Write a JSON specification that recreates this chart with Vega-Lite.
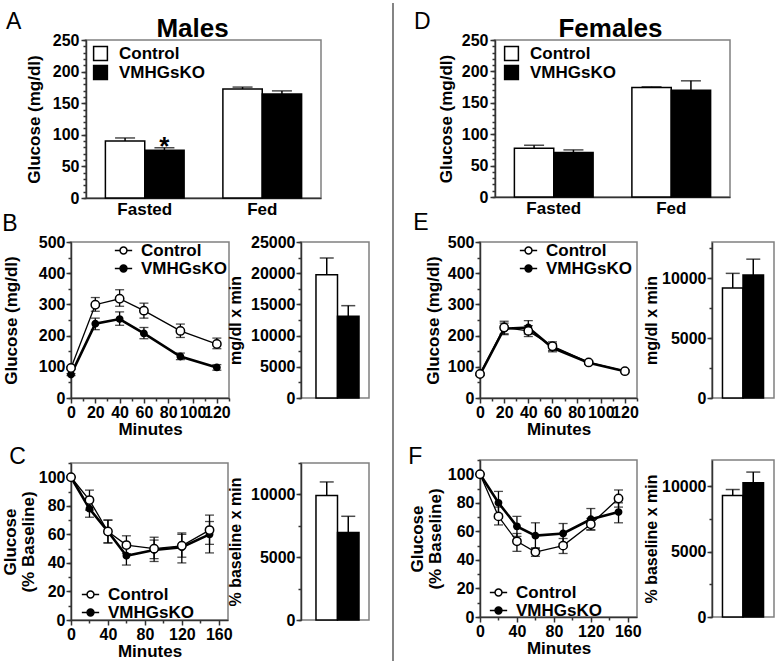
{
"$schema": "https://vega.github.io/schema/vega-lite/v6.json",
"background": "white",
"padding": {"left": 0, "top": 2, "right": 0, "bottom": 0},
"config": {
  "font": "Liberation Sans",
  "view": {"stroke": "#808080", "strokeWidth": 1.5},
  "axis": {"labelFont": "Liberation Sans", "labelFontSize": 16, "labelFontWeight": "bold", "labelColor": "#000", "titleFont": "Liberation Sans", "titleFontSize": 17, "titleFontWeight": "bold", "titleColor": "#000", "domainColor": "#333", "domainWidth": 1.5, "tickColor": "#333", "tickWidth": 1.5, "grid": false, "labelFlush": false, "labelOverlap": false},
  "legend": {"labelFont": "Liberation Sans", "labelFontSize": 17, "labelFontWeight": "bold", "labelColor": "#000"},
  "title": {"font": "Liberation Sans", "color": "#000"}
},
"datasets": {
  "A": [
    {"cond": "Fasted", "group": "Control", "mean": 90, "hi": 95, "sig": ""},
    {"cond": "Fasted", "group": "VMHGsKO", "mean": 75.5, "hi": 79.5, "sig": "*"},
    {"cond": "Fed", "group": "Control", "mean": 172.5, "hi": 175.5, "sig": ""},
    {"cond": "Fed", "group": "VMHGsKO", "mean": 164.5, "hi": 169.5, "sig": ""}
  ],
  "D": [
    {"cond": "Fasted", "group": "Control", "mean": 77.5, "hi": 82.5},
    {"cond": "Fasted", "group": "VMHGsKO", "mean": 71, "hi": 75},
    {"cond": "Fed", "group": "Control", "mean": 174.5, "hi": 175.5},
    {"cond": "Fed", "group": "VMHGsKO", "mean": 170, "hi": 185}
  ],
  "B": [
    {"t": 0, "group": "VMHGsKO", "mean": 75, "lo": 72, "hi": 78},
    {"t": 20, "group": "VMHGsKO", "mean": 238, "lo": 219, "hi": 256},
    {"t": 40, "group": "VMHGsKO", "mean": 253, "lo": 233, "hi": 276},
    {"t": 60, "group": "VMHGsKO", "mean": 207, "lo": 190, "hi": 226},
    {"t": 90, "group": "VMHGsKO", "mean": 133, "lo": 123, "hi": 144},
    {"t": 120, "group": "VMHGsKO", "mean": 98, "lo": 89, "hi": 107},
    {"t": 0, "group": "Control", "mean": 96, "lo": 92, "hi": 100},
    {"t": 20, "group": "Control", "mean": 299, "lo": 278, "hi": 322},
    {"t": 40, "group": "Control", "mean": 318, "lo": 294, "hi": 347},
    {"t": 60, "group": "Control", "mean": 280, "lo": 256, "hi": 304},
    {"t": 90, "group": "Control", "mean": 215, "lo": 194, "hi": 237},
    {"t": 120, "group": "Control", "mean": 173, "lo": 158, "hi": 192}
  ],
  "Bauc": [
    {"group": "Control", "mean": 19765, "hi": 22436},
    {"group": "VMHGsKO", "mean": 13088, "hi": 14797}
  ],
  "C": [
    {"t": 0, "group": "VMHGsKO", "mean": 100, "lo": 100, "hi": 100},
    {"t": 20, "group": "VMHGsKO", "mean": 78, "lo": 72, "hi": 84},
    {"t": 40, "group": "VMHGsKO", "mean": 62, "lo": 54, "hi": 70},
    {"t": 60, "group": "VMHGsKO", "mean": 45, "lo": 38.5, "hi": 51},
    {"t": 90, "group": "VMHGsKO", "mean": 49, "lo": 41, "hi": 56},
    {"t": 120, "group": "VMHGsKO", "mean": 51, "lo": 40, "hi": 60},
    {"t": 150, "group": "VMHGsKO", "mean": 60, "lo": 47, "hi": 69},
    {"t": 0, "group": "Control", "mean": 100, "lo": 100, "hi": 100},
    {"t": 20, "group": "Control", "mean": 84, "lo": 77, "hi": 91},
    {"t": 40, "group": "Control", "mean": 62, "lo": 54, "hi": 70},
    {"t": 60, "group": "Control", "mean": 52.5, "lo": 46.5, "hi": 59},
    {"t": 90, "group": "Control", "mean": 50, "lo": 43, "hi": 58},
    {"t": 120, "group": "Control", "mean": 52, "lo": 44, "hi": 61},
    {"t": 150, "group": "Control", "mean": 63, "lo": 53, "hi": 73.5}
  ],
  "Cauc": [
    {"group": "Control", "mean": 9920, "hi": 10992},
    {"group": "VMHGsKO", "mean": 6970, "hi": 8257}
  ],
  "E": [
    {"t": 0, "group": "VMHGsKO", "mean": 75, "lo": 72, "hi": 78},
    {"t": 20, "group": "VMHGsKO", "mean": 222, "lo": 203, "hi": 240},
    {"t": 40, "group": "VMHGsKO", "mean": 226, "lo": 205, "hi": 248},
    {"t": 60, "group": "VMHGsKO", "mean": 161, "lo": 148, "hi": 175},
    {"t": 90, "group": "VMHGsKO", "mean": 113, "lo": 109, "hi": 117},
    {"t": 120, "group": "VMHGsKO", "mean": 86, "lo": 83, "hi": 89},
    {"t": 0, "group": "Control", "mean": 77, "lo": 74, "hi": 80},
    {"t": 20, "group": "Control", "mean": 226, "lo": 206, "hi": 246},
    {"t": 40, "group": "Control", "mean": 215, "lo": 197, "hi": 232},
    {"t": 60, "group": "Control", "mean": 166, "lo": 152, "hi": 180},
    {"t": 90, "group": "Control", "mean": 114, "lo": 110, "hi": 118},
    {"t": 120, "group": "Control", "mean": 86, "lo": 83, "hi": 89}
  ],
  "Eauc": [
    {"group": "Control", "mean": 9173, "hi": 10386},
    {"group": "VMHGsKO", "mean": 10248, "hi": 11570}
  ],
  "F": [
    {"t": 0, "group": "VMHGsKO", "mean": 100, "lo": 100, "hi": 100},
    {"t": 20, "group": "VMHGsKO", "mean": 80, "lo": 72, "hi": 88},
    {"t": 40, "group": "VMHGsKO", "mean": 63.5, "lo": 56.5, "hi": 70.5},
    {"t": 60, "group": "VMHGsKO", "mean": 57, "lo": 48, "hi": 66},
    {"t": 90, "group": "VMHGsKO", "mean": 58.5, "lo": 51.5, "hi": 65.5},
    {"t": 120, "group": "VMHGsKO", "mean": 68.5, "lo": 61, "hi": 76},
    {"t": 150, "group": "VMHGsKO", "mean": 73.5, "lo": 66, "hi": 80},
    {"t": 0, "group": "Control", "mean": 100, "lo": 100, "hi": 100},
    {"t": 20, "group": "Control", "mean": 70.5, "lo": 64.5, "hi": 77},
    {"t": 40, "group": "Control", "mean": 53, "lo": 46, "hi": 58.5},
    {"t": 60, "group": "Control", "mean": 45.5, "lo": 42.5, "hi": 48.5},
    {"t": 90, "group": "Control", "mean": 50, "lo": 44.5, "hi": 55},
    {"t": 120, "group": "Control", "mean": 65, "lo": 61, "hi": 69},
    {"t": 150, "group": "Control", "mean": 83, "lo": 77, "hi": 89}
  ],
  "Fauc": [
    {"group": "Control", "mean": 9282, "hi": 9744},
    {"group": "VMHGsKO", "mean": 10256, "hi": 11077}
  ]
},
"spacing": 13,
"resolve": {"scale": {"fill": "independent"}, "legend": {"fill": "independent"}},
"hconcat": [
 {"hconcat": [
  {"vconcat": [
    {"width": 1, "height": 1, "view": {"stroke": null}, "data": {"values": []}, "mark": "point", "encoding": {}},
    {"vconcat": [
      {"hconcat": [
        {"width": 15, "height": 158, "view": {"stroke": null}, "title": {"text": "A", "anchor": "start", "frame": "group", "dx": -65, "fontSize": 23, "fontWeight": "normal", "baseline": "alphabetic", "offset": -12}, "data": {"values": []}, "mark": "point", "encoding": {}},
        {"width": 235, "height": 158,
         "title": {"text": "Males", "anchor": "middle", "frame": "group", "fontSize": 26, "fontWeight": "bold", "baseline": "alphabetic", "offset": -31, "dx": -11},
         "data": {"name": "A"},
         "resolve": {"axis": {"y": "independent"}},
         "encoding": {
           "x": {"field": "cond", "type": "nominal", "sort": ["Fasted", "Fed"], "scale": {"paddingInner": 0.33, "paddingOuter": 0.165}, "axis": {"title": null, "labelAngle": 0, "ticks": false, "labelPadding": 3, "labelFontSize": 17}},
           "xOffset": {"field": "group", "type": "nominal", "sort": ["Control", "VMHGsKO"], "scale": {"paddingInner": 0, "paddingOuter": 0}}
         },
         "layer": [
           {"mark": {"type": "bar", "stroke": "black", "strokeWidth": 1.5},
            "encoding": {
              "y": {"field": "mean", "type": "quantitative", "scale": {"domain": [0, 250], "nice": false}, "axis": {"title": "Glucose (mg/dl)", "orient": "left", "labelOverlap": false, "values": [0,50,100,150,200,250], "tickSize": 5, "labelPadding": 2, "titlePadding": 9}},
              "fill": {"field": "group", "type": "nominal", "scale": {"domain": ["Control", "VMHGsKO"], "range": ["white", "black"]}, "legend": {"title": null, "orient": "none", "legendX": 6, "legendY": 5, "symbolType": "square", "symbolSize": 190, "symbolStrokeColor": "black", "symbolStrokeWidth": 1.5, "labelOffset": 10, "rowPadding": -2}}
            }},
           {"mark": {"type": "rule", "color": "black", "strokeWidth": 1.5},
            "encoding": {"y": {"field": "mean", "type": "quantitative", "axis": {"orient": "left", "title": null, "labels": false, "domain": false, "tickSize": 3, "values": [0,10,20,30,40,50,60,70,80,90,100,110,120,130,140,150,160,170,180,190,200,210,220,230,240,250]}}, "y2": {"field": "hi"}}},
           {"mark": {"type": "tick", "orient": "horizontal", "size": 20, "thickness": 1.5, "color": "black"},
            "encoding": {"y": {"field": "hi", "type": "quantitative", "axis": null}}},
           {"mark": {"type": "text", "fontSize": 26, "fontWeight": "bold", "baseline": "alphabetic", "dy": 7, "color": "black"},
            "encoding": {"y": {"field": "hi", "type": "quantitative", "axis": null}, "text": {"field": "sig"}}}
         ]}
      ], "spacing": 0, "bounds": "flush", "resolve": {"scale": {"fill": "independent"}, "legend": {"fill": "independent"}}},
      {"hconcat": [
        {"width": 158, "height": 156,
         "title": {"text": "B", "anchor": "start", "fontSize": 23, "fontWeight": "normal", "baseline": "alphabetic", "offset": -20},
         "data": {"name": "B"},
         "resolve": {"axis": {"y": "independent"}},
         "encoding": {
           "x": {"field": "t", "type": "quantitative", "scale": {"domain": [0, 130], "nice": false}, "axis": {"title": "Minutes", "labelOverlap": false, "values": [0,10,20,30,40,50,60,70,80,90,100,110,120,130], "labelExpr": "datum.value % 20 === 0 && datum.value <= 120 ? datum.label : ''", "tickSize": {"condition": {"test": "datum.value % 20 === 0", "value": 5}, "value": 3}, "labelPadding": 1, "titlePadding": 1}}
         },
         "layer": [
           {"mark": {"type": "rule", "color": "black", "strokeWidth": 1.3},
            "encoding": {"y": {"field": "lo", "type": "quantitative", "scale": {"domain": [0, 500], "nice": false}, "axis": {"title": "Glucose (mg/dl)", "orient": "left", "labelOverlap": false, "values": [0,100,200,300,400,500], "tickSize": 5, "labelPadding": 1, "titlePadding": 18}}, "y2": {"field": "hi"}}},
           {"mark": {"type": "tick", "orient": "horizontal", "size": 9, "thickness": 1.3, "color": "black"},
            "encoding": {"y": {"field": "lo", "type": "quantitative", "axis": {"orient": "left", "title": null, "labels": false, "domain": false, "tickSize": 3, "values": [0,50,100,150,200,250,300,350,400,450,500]}}}},
           {"mark": {"type": "tick", "orient": "horizontal", "size": 9, "thickness": 1.3, "color": "black"},
            "encoding": {"y": {"field": "hi", "type": "quantitative", "axis": null}}},
           {"transform": [{"filter": "datum.group === 'Control'"}], "mark": {"type": "line", "color": "black", "strokeWidth": 1.3},
            "encoding": {"y": {"field": "mean", "type": "quantitative", "axis": null}}},
           {"transform": [{"filter": "datum.group === 'VMHGsKO'"}], "mark": {"type": "line", "color": "black", "strokeWidth": 2.6},
            "encoding": {"y": {"field": "mean", "type": "quantitative", "axis": null}}},
           {"mark": {"type": "point", "shape": "circle", "filled": true, "stroke": "black", "strokeWidth": 1.5, "opacity": 1},
            "encoding": {"y": {"field": "mean", "type": "quantitative", "axis": null},
              "fill": {"field": "group", "type": "nominal", "scale": {"domain": ["Control", "VMHGsKO"], "range": ["white", "black"]}, "legend": {"title": null, "orient": "none", "legendX": 43, "legendY": -1, "symbolType": "M-1,0H-0.4M0.4,0H1M0.4,0A0.4,0.4,0,1,1,-0.4,0A0.4,0.4,0,1,1,0.4,0Z", "symbolSize": 300, "symbolStrokeColor": "black", "symbolStrokeWidth": 1.5, "labelOffset": 8, "rowPadding": -1}},
              "size": {"condition": {"test": "datum.group === 'Control'", "value": 70}, "value": 40}}}
         ]},
        {"width": 68, "height": 156,
         "data": {"name": "Bauc"},
         "resolve": {"axis": {"y": "independent"}},
         "encoding": {"x": {"field": "group", "type": "nominal", "sort": ["Control", "VMHGsKO"], "axis": null, "scale": {"paddingInner": 0, "paddingOuter": 0.58, "align": 0.6}}},
         "layer": [
           {"mark": {"type": "bar", "stroke": "black", "strokeWidth": 1.5},
            "encoding": {"y": {"field": "mean", "type": "quantitative", "scale": {"domain": [0, 25000], "nice": false}, "axis": {"title": "mg/dl x min", "orient": "left", "titleFontSize": 16, "labelOverlap": false, "values": [0,5000,10000,15000,20000,25000], "format": "d", "tickSize": 5, "labelPadding": 1, "titlePadding": 7}},
              "fill": {"field": "group", "type": "nominal", "scale": {"domain": ["Control", "VMHGsKO"], "range": ["white", "black"]}, "legend": null}}},
           {"mark": {"type": "rule", "color": "black", "strokeWidth": 1.5},
            "encoding": {"y": {"field": "mean", "type": "quantitative", "axis": {"orient": "left", "title": null, "labels": false, "domain": false, "tickSize": 3, "values": [0,2500,5000,7500,10000,12500,15000,17500,20000,22500,25000]}}, "y2": {"field": "hi"}}},
           {"mark": {"type": "tick", "orient": "horizontal", "size": 14, "thickness": 1.5, "color": "black"},
            "encoding": {"y": {"field": "hi", "type": "quantitative", "axis": null}}}
         ]}
      ], "spacing": 72, "bounds": "flush", "resolve": {"scale": {"fill": "independent"}, "legend": {"fill": "independent"}}}
    ], "spacing": -6, "resolve": {"scale": {"fill": "independent"}, "legend": {"fill": "independent"}}},
    {"hconcat": [
      {"width": 157, "height": 157,
       "title": {"text": "C", "anchor": "start", "fontSize": 23, "fontWeight": "normal", "baseline": "alphabetic", "offset": -25, "dx": 8},
       "data": {"name": "C"},
       "resolve": {"axis": {"y": "independent"}},
       "encoding": {
         "x": {"field": "t", "type": "quantitative", "scale": {"domain": [0, 170], "nice": false}, "axis": {"title": "Minutes", "labelOverlap": false, "values": [0,20,40,60,80,100,120,140,160], "labelExpr": "datum.value % 40 === 0 ? datum.label : ''", "tickSize": {"condition": {"test": "datum.value % 40 === 0", "value": 5}, "value": 3}, "labelPadding": 1, "titlePadding": 1}}
       },
       "layer": [
         {"mark": {"type": "rule", "color": "black", "strokeWidth": 1.3},
          "encoding": {"y": {"field": "lo", "type": "quantitative", "scale": {"domain": [0, 110], "nice": false}, "axis": {"title": ["Glucose", "(% Baseline)"], "orient": "left", "titleLineHeight": 18, "labelOverlap": false, "values": [0,20,40,60,80,100], "tickSize": 5, "labelPadding": 1, "titlePadding": 1}}, "y2": {"field": "hi"}}},
         {"mark": {"type": "tick", "orient": "horizontal", "size": 9, "thickness": 1.3, "color": "black"},
          "encoding": {"y": {"field": "lo", "type": "quantitative", "axis": {"orient": "left", "title": null, "labels": false, "domain": false, "tickSize": 3, "values": [0,10,20,30,40,50,60,70,80,90,100,110]}}}},
         {"mark": {"type": "tick", "orient": "horizontal", "size": 9, "thickness": 1.3, "color": "black"},
          "encoding": {"y": {"field": "hi", "type": "quantitative", "axis": null}}},
         {"transform": [{"filter": "datum.group === 'Control'"}], "mark": {"type": "line", "color": "black", "strokeWidth": 1.3},
          "encoding": {"y": {"field": "mean", "type": "quantitative", "axis": null}}},
         {"transform": [{"filter": "datum.group === 'VMHGsKO'"}], "mark": {"type": "line", "color": "black", "strokeWidth": 2.6},
          "encoding": {"y": {"field": "mean", "type": "quantitative", "axis": null}}},
         {"mark": {"type": "point", "shape": "circle", "filled": true, "stroke": "black", "strokeWidth": 1.5, "opacity": 1},
          "encoding": {"y": {"field": "mean", "type": "quantitative", "axis": null},
            "fill": {"field": "group", "type": "nominal", "scale": {"domain": ["Control", "VMHGsKO"], "range": ["white", "black"]}, "legend": {"title": null, "orient": "none", "legendX": 10, "legendY": 122, "symbolType": "M-1,0H-0.4M0.4,0H1M0.4,0A0.4,0.4,0,1,1,-0.4,0A0.4,0.4,0,1,1,0.4,0Z", "symbolSize": 300, "symbolStrokeColor": "black", "symbolStrokeWidth": 1.5, "labelOffset": 8, "rowPadding": -3}},
            "size": {"condition": {"test": "datum.group === 'Control'", "value": 70}, "value": 40}}}
       ]},
      {"width": 68, "height": 157,
       "data": {"name": "Cauc"},
       "resolve": {"axis": {"y": "independent"}},
       "encoding": {"x": {"field": "group", "type": "nominal", "sort": ["Control", "VMHGsKO"], "axis": null, "scale": {"paddingInner": 0, "paddingOuter": 0.58, "align": 0.6}}},
       "layer": [
         {"mark": {"type": "bar", "stroke": "black", "strokeWidth": 1.5},
          "encoding": {"y": {"field": "mean", "type": "quantitative", "scale": {"domain": [0, 12500], "nice": false}, "axis": {"title": "% baseline x min", "orient": "left", "titleFontSize": 16, "labelOverlap": false, "values": [0,5000,10000], "format": "d", "tickSize": 5, "labelPadding": 1, "titlePadding": 7}},
            "fill": {"field": "group", "type": "nominal", "scale": {"domain": ["Control", "VMHGsKO"], "range": ["white", "black"]}, "legend": null}}},
         {"mark": {"type": "rule", "color": "black", "strokeWidth": 1.5},
          "encoding": {"y": {"field": "mean", "type": "quantitative", "axis": {"orient": "left", "title": null, "labels": false, "domain": false, "tickSize": 3, "values": [0,2500,5000,7500,10000,12500]}}, "y2": {"field": "hi"}}},
         {"mark": {"type": "tick", "orient": "horizontal", "size": 14, "thickness": 1.5, "color": "black"},
          "encoding": {"y": {"field": "hi", "type": "quantitative", "axis": null}}}
       ]}
    ], "spacing": 73, "bounds": "flush", "resolve": {"scale": {"fill": "independent"}, "legend": {"fill": "independent"}}}
  ], "spacing": 7, "resolve": {"scale": {"fill": "independent"}, "legend": {"fill": "independent"}}},
  {"width": 1, "height": 658, "view": {"stroke": null}, "data": {"values": [{"pos": 0}]}, "mark": {"type": "rule", "color": "#333", "strokeWidth": 1.2}, "encoding": {"x": {"field": "pos", "type": "quantitative", "axis": null, "scale": {"domain": [0, 1]}}}}
 ], "spacing": 22, "resolve": {"scale": {"fill": "independent"}, "legend": {"fill": "independent"}}},
  {"vconcat": [
    {"width": 1, "height": 1, "view": {"stroke": null}, "data": {"values": []}, "mark": "point", "encoding": {}},
    {"vconcat": [
      {"hconcat": [
        {"width": 15, "height": 157, "view": {"stroke": null}, "title": {"text": "D", "anchor": "start", "frame": "group", "dx": -66, "fontSize": 23, "fontWeight": "normal", "baseline": "alphabetic", "offset": -12}, "data": {"values": []}, "mark": "point", "encoding": {}},
        {"width": 235, "height": 157,
         "title": {"text": "Females", "anchor": "middle", "frame": "group", "fontSize": 26, "fontWeight": "bold", "baseline": "alphabetic", "offset": -31, "dx": -2},
         "data": {"name": "D"},
         "resolve": {"axis": {"y": "independent"}},
         "encoding": {
           "x": {"field": "cond", "type": "nominal", "sort": ["Fasted", "Fed"], "scale": {"paddingInner": 0.33, "paddingOuter": 0.165}, "axis": {"title": null, "labelAngle": 0, "ticks": false, "labelPadding": 3, "labelFontSize": 17}},
           "xOffset": {"field": "group", "type": "nominal", "sort": ["Control", "VMHGsKO"], "scale": {"paddingInner": 0, "paddingOuter": 0}}
         },
         "layer": [
           {"mark": {"type": "bar", "stroke": "black", "strokeWidth": 1.5},
            "encoding": {
              "y": {"field": "mean", "type": "quantitative", "scale": {"domain": [0, 250], "nice": false}, "axis": {"title": "Glucose (mg/dl)", "orient": "left", "labelOverlap": false, "values": [0,50,100,150,200,250], "tickSize": 5, "labelPadding": 2, "titlePadding": 6}},
              "fill": {"field": "group", "type": "nominal", "scale": {"domain": ["Control", "VMHGsKO"], "range": ["white", "black"]}, "legend": {"title": null, "orient": "none", "legendX": 8, "legendY": 5, "symbolType": "square", "symbolSize": 190, "symbolStrokeColor": "black", "symbolStrokeWidth": 1.5, "labelOffset": 10, "rowPadding": -2}}
            }},
           {"mark": {"type": "rule", "color": "black", "strokeWidth": 1.5},
            "encoding": {"y": {"field": "mean", "type": "quantitative", "axis": {"orient": "left", "title": null, "labels": false, "domain": false, "tickSize": 3, "values": [0,10,20,30,40,50,60,70,80,90,100,110,120,130,140,150,160,170,180,190,200,210,220,230,240,250]}}, "y2": {"field": "hi"}}},
           {"mark": {"type": "tick", "orient": "horizontal", "size": 20, "thickness": 1.5, "color": "black"},
            "encoding": {"y": {"field": "hi", "type": "quantitative", "axis": null}}}
         ]}
      ], "spacing": 0, "bounds": "flush", "resolve": {"scale": {"fill": "independent"}, "legend": {"fill": "independent"}}},
      {"hconcat": [
        {"width": 157, "height": 156,
         "title": {"text": "E", "anchor": "start", "fontSize": 23, "fontWeight": "normal", "baseline": "alphabetic", "offset": -19, "dx": -11},
         "data": {"name": "E"},
         "resolve": {"axis": {"y": "independent"}},
         "encoding": {
           "x": {"field": "t", "type": "quantitative", "scale": {"domain": [0, 130], "nice": false}, "axis": {"title": "Minutes", "labelOverlap": false, "values": [0,10,20,30,40,50,60,70,80,90,100,110,120,130], "labelExpr": "datum.value % 20 === 0 && datum.value <= 120 ? datum.label : ''", "tickSize": {"condition": {"test": "datum.value % 20 === 0", "value": 5}, "value": 3}, "labelPadding": 1, "titlePadding": 1}}
         },
         "layer": [
           {"mark": {"type": "rule", "color": "black", "strokeWidth": 1.3},
            "encoding": {"y": {"field": "lo", "type": "quantitative", "scale": {"domain": [0, 500], "nice": false}, "axis": {"title": "Glucose (mg/dl)", "orient": "left", "labelOverlap": false, "values": [0,100,200,300,400,500], "tickSize": 5, "labelPadding": 1, "titlePadding": 5}}, "y2": {"field": "hi"}}},
           {"mark": {"type": "tick", "orient": "horizontal", "size": 9, "thickness": 1.3, "color": "black"},
            "encoding": {"y": {"field": "lo", "type": "quantitative", "axis": {"orient": "left", "title": null, "labels": false, "domain": false, "tickSize": 3, "values": [0,50,100,150,200,250,300,350,400,450,500]}}}},
           {"mark": {"type": "tick", "orient": "horizontal", "size": 9, "thickness": 1.3, "color": "black"},
            "encoding": {"y": {"field": "hi", "type": "quantitative", "axis": null}}},
           {"transform": [{"filter": "datum.group === 'Control'"}], "mark": {"type": "line", "color": "black", "strokeWidth": 1.3},
            "encoding": {"y": {"field": "mean", "type": "quantitative", "axis": null}}},
           {"transform": [{"filter": "datum.group === 'VMHGsKO'"}], "mark": {"type": "line", "color": "black", "strokeWidth": 2.6},
            "encoding": {"y": {"field": "mean", "type": "quantitative", "axis": null}}},
           {"mark": {"type": "point", "shape": "circle", "filled": true, "stroke": "black", "strokeWidth": 1.5, "opacity": 1},
            "encoding": {"y": {"field": "mean", "type": "quantitative", "axis": null},
              "fill": {"field": "group", "type": "nominal", "scale": {"domain": ["Control", "VMHGsKO"], "range": ["white", "black"]}, "legend": {"title": null, "orient": "none", "legendX": 39, "legendY": -1, "symbolType": "M-1,0H-0.4M0.4,0H1M0.4,0A0.4,0.4,0,1,1,-0.4,0A0.4,0.4,0,1,1,0.4,0Z", "symbolSize": 300, "symbolStrokeColor": "black", "symbolStrokeWidth": 1.5, "labelOffset": 8, "rowPadding": -1}},
              "size": {"condition": {"test": "datum.group === 'Control'", "value": 70}, "value": 40}}}
         ]},
        {"width": 62, "height": 156,
         "data": {"name": "Eauc"},
         "resolve": {"axis": {"y": "independent"}},
         "encoding": {"x": {"field": "group", "type": "nominal", "sort": ["Control", "VMHGsKO"], "axis": null, "scale": {"paddingInner": 0, "paddingOuter": 0.51}}},
         "layer": [
           {"mark": {"type": "bar", "stroke": "black", "strokeWidth": 1.5},
            "encoding": {"y": {"field": "mean", "type": "quantitative", "scale": {"domain": [0, 13000], "nice": false}, "axis": {"title": "mg/dl x min", "orient": "left", "titleFontSize": 16, "labelOverlap": false, "values": [0,5000,10000], "format": "d", "tickSize": 5, "labelPadding": 1, "titlePadding": 2}},
              "fill": {"field": "group", "type": "nominal", "scale": {"domain": ["Control", "VMHGsKO"], "range": ["white", "black"]}, "legend": null}}},
           {"mark": {"type": "rule", "color": "black", "strokeWidth": 1.5},
            "encoding": {"y": {"field": "mean", "type": "quantitative", "axis": {"orient": "left", "title": null, "labels": false, "domain": false, "tickSize": 3, "values": [0,2500,5000,7500,10000,12500]}}, "y2": {"field": "hi"}}},
           {"mark": {"type": "tick", "orient": "horizontal", "size": 14, "thickness": 1.5, "color": "black"},
            "encoding": {"y": {"field": "hi", "type": "quantitative", "axis": null}}}
         ]}
      ], "spacing": 75, "bounds": "flush", "resolve": {"scale": {"fill": "independent"}, "legend": {"fill": "independent"}}}
    ], "spacing": -6, "resolve": {"scale": {"fill": "independent"}, "legend": {"fill": "independent"}}},
    {"hconcat": [
      {"width": 157, "height": 157,
       "title": {"text": "F", "anchor": "start", "fontSize": 23, "fontWeight": "normal", "baseline": "alphabetic", "offset": -28, "dx": 0},
       "data": {"name": "F"},
       "resolve": {"axis": {"y": "independent"}},
       "encoding": {
         "x": {"field": "t", "type": "quantitative", "scale": {"domain": [0, 170], "nice": false}, "axis": {"title": "Minutes", "labelOverlap": false, "values": [0,20,40,60,80,100,120,140,160], "labelExpr": "datum.value % 40 === 0 ? datum.label : ''", "tickSize": {"condition": {"test": "datum.value % 40 === 0", "value": 5}, "value": 3}, "labelPadding": 1, "titlePadding": 1}}
       },
       "layer": [
         {"mark": {"type": "rule", "color": "black", "strokeWidth": 1.3},
          "encoding": {"y": {"field": "lo", "type": "quantitative", "scale": {"domain": [0, 110], "nice": false}, "axis": {"title": ["Glucose", "(% Baseline)"], "orient": "left", "titleLineHeight": 18, "labelOverlap": false, "values": [0,20,40,60,80,100], "tickSize": 5, "labelPadding": 1, "titlePadding": 3}}, "y2": {"field": "hi"}}},
         {"mark": {"type": "tick", "orient": "horizontal", "size": 9, "thickness": 1.3, "color": "black"},
          "encoding": {"y": {"field": "lo", "type": "quantitative", "axis": {"orient": "left", "title": null, "labels": false, "domain": false, "tickSize": 3, "values": [0,10,20,30,40,50,60,70,80,90,100,110]}}}},
         {"mark": {"type": "tick", "orient": "horizontal", "size": 9, "thickness": 1.3, "color": "black"},
          "encoding": {"y": {"field": "hi", "type": "quantitative", "axis": null}}},
         {"transform": [{"filter": "datum.group === 'Control'"}], "mark": {"type": "line", "color": "black", "strokeWidth": 1.3},
          "encoding": {"y": {"field": "mean", "type": "quantitative", "axis": null}}},
         {"transform": [{"filter": "datum.group === 'VMHGsKO'"}], "mark": {"type": "line", "color": "black", "strokeWidth": 2.6},
          "encoding": {"y": {"field": "mean", "type": "quantitative", "axis": null}}},
         {"mark": {"type": "point", "shape": "circle", "filled": true, "stroke": "black", "strokeWidth": 1.5, "opacity": 1},
          "encoding": {"y": {"field": "mean", "type": "quantitative", "axis": null},
            "fill": {"field": "group", "type": "nominal", "scale": {"domain": ["Control", "VMHGsKO"], "range": ["white", "black"]}, "legend": {"title": null, "orient": "none", "legendX": 9, "legendY": 123, "symbolType": "M-1,0H-0.4M0.4,0H1M0.4,0A0.4,0.4,0,1,1,-0.4,0A0.4,0.4,0,1,1,0.4,0Z", "symbolSize": 300, "symbolStrokeColor": "black", "symbolStrokeWidth": 1.5, "labelOffset": 8, "rowPadding": -2}},
            "size": {"condition": {"test": "datum.group === 'Control'", "value": 70}, "value": 40}}}
       ]},
      {"width": 62, "height": 157,
       "data": {"name": "Fauc"},
       "resolve": {"axis": {"y": "independent"}},
       "encoding": {"x": {"field": "group", "type": "nominal", "sort": ["Control", "VMHGsKO"], "axis": null, "scale": {"paddingInner": 0, "paddingOuter": 0.51}}},
       "layer": [
         {"mark": {"type": "bar", "stroke": "black", "strokeWidth": 1.5},
          "encoding": {"y": {"field": "mean", "type": "quantitative", "scale": {"domain": [0, 12000], "nice": false}, "axis": {"title": "% baseline x min", "orient": "left", "titleFontSize": 16, "labelOverlap": false, "values": [0,5000,10000], "format": "d", "tickSize": 5, "labelPadding": 1, "titlePadding": 2}},
            "fill": {"field": "group", "type": "nominal", "scale": {"domain": ["Control", "VMHGsKO"], "range": ["white", "black"]}, "legend": null}}},
         {"mark": {"type": "rule", "color": "black", "strokeWidth": 1.5},
          "encoding": {"y": {"field": "mean", "type": "quantitative", "axis": {"orient": "left", "title": null, "labels": false, "domain": false, "tickSize": 3, "values": [0,2500,5000,7500,10000]}}, "y2": {"field": "hi"}}},
         {"mark": {"type": "tick", "orient": "horizontal", "size": 14, "thickness": 1.5, "color": "black"},
          "encoding": {"y": {"field": "hi", "type": "quantitative", "axis": null}}}
       ]}
    ], "spacing": 75, "bounds": "flush", "resolve": {"scale": {"fill": "independent"}, "legend": {"fill": "independent"}}}
  ], "spacing": 7, "resolve": {"scale": {"fill": "independent"}, "legend": {"fill": "independent"}}}
]
}
